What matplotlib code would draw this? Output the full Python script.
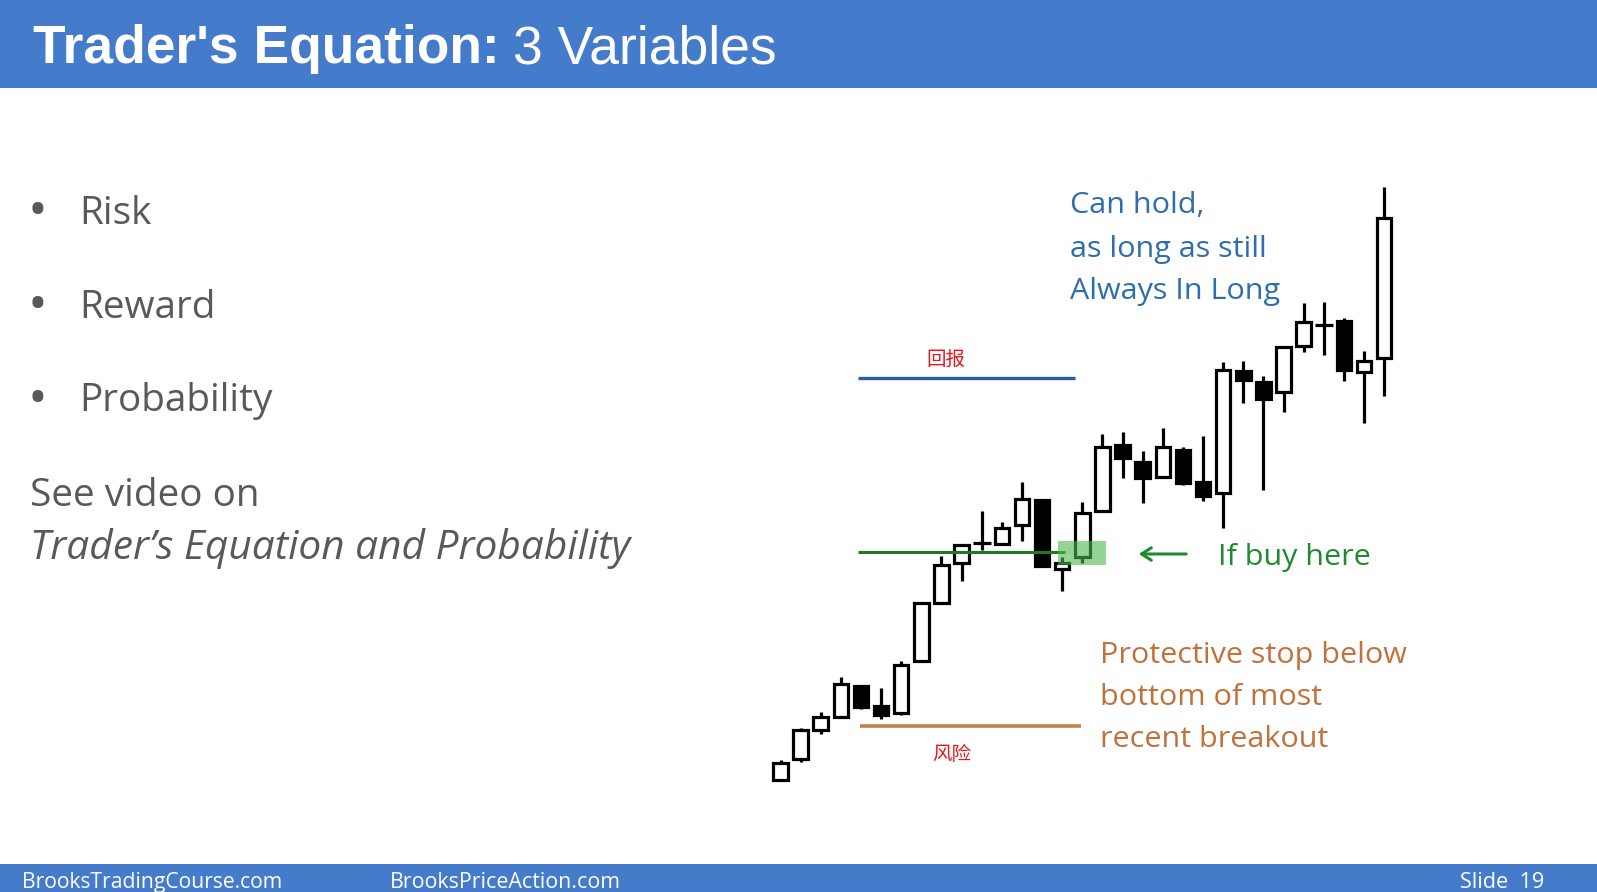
import matplotlib
matplotlib.use('Agg')
import matplotlib.pyplot as plt
from matplotlib.patches import Rectangle
from matplotlib import font_manager as fm

# ─────────────────────────────────────────────
# DATA (prices)
# ─────────────────────────────────────────────
opens  = [2.0, 4.1, 7.0, 8.3, 11.4, 9.4, 8.7, 13.9, 19.7, 23.7,
          25.7, 25.6, 27.5, 30.0, 23.1, 24.3, 28.9, 35.5, 33.8, 32.3,
          35.0, 31.8, 30.7, 42.9, 41.8, 40.8, 45.4, 47.5, 47.9, 42.8, 44.2]
highs  = [4.0, 7.2, 8.8, 12.3, 11.4, 11.2, 13.9, 19.7, 24.4, 25.5,
          28.9, 27.8, 31.8, 30.0, 24.3, 29.8, 36.6, 36.8, 34.9, 37.2,
          35.3, 36.4, 43.8, 43.9, 42.4, 45.3, 49.7, 49.8, 48.2, 44.9, 61.3]
lows   = [2.0, 3.8, 6.6, 8.3, 9.1, 8.1, 8.5, 13.9, 19.7, 21.9,
          25.0, 25.6, 25.9, 23.4, 20.9, 23.7, 28.9, 32.2, 29.7, 32.2,
          31.5, 29.9, 27.2, 39.7, 31.0, 38.8, 44.8, 44.5, 41.9, 37.7, 40.4]
closes = [3.7, 7.0, 8.3, 11.6, 9.3, 8.5, 13.5, 19.7, 23.5, 25.5,
          25.7, 27.2, 30.1, 23.4, 23.7, 28.7, 35.3, 34.2, 32.2, 35.3,
          31.7, 30.4, 43.0, 42.0, 40.1, 45.3, 47.8, 47.5, 43.0, 43.9, 58.2]

reward_level = 42.2
entry_level = 24.8
stop_level = 7.4
reward_span = (3.85, 14.65)
entry_span = (3.85, 14.15)
stop_span = (3.95, 14.95)
entry_bar = 15

bullets = ['Risk', 'Reward', 'Probability']
hold_text = ['Can hold,', 'as long as still', 'Always In Long']
stop_text = ['Protective stop below', 'bottom of most', 'recent breakout']

# ─────────────────────────────────────────────
# COLOURS / FONTS
# ─────────────────────────────────────────────
BAR_BLUE = '#457BCB'
GREY = '#595959'
TXT_BLUE = '#2E6DAE'
TXT_GREEN = '#208A2E'
TXT_ORANGE = '#C2713C'
BODY = 'Open Sans'
CJK = ['Noto Sans CJK SC', 'DejaVu Sans']

names = {f.name for f in fm.fontManager.ttflist}
NARROW = 'Liberation Sans Narrow' if 'Liberation Sans Narrow' in names else 'Open Sans'

W, H = 1597, 892
fig = plt.figure(figsize=(W / 100, H / 100), dpi=100)
fig.patch.set_facecolor('white')
renderer = fig.canvas.get_renderer()

# slide layer in pixel coordinates
slide = fig.add_axes([0, 0, 1, 1])
slide.set_xlim(0, W)
slide.set_ylim(H, 0)
slide.axis('off')


def fit(ax, x, y, s, width, size=20, **kw):
    t = ax.text(x, y, s, fontsize=size, **kw)
    bb = t.get_window_extent(renderer)
    t.set_fontsize(size * width / bb.width)
    return t


# header / footer bars
slide.add_patch(Rectangle((0, 0), W, 88, facecolor=BAR_BLUE, edgecolor='none'))
slide.add_patch(Rectangle((0, 864), W, 28, facecolor=BAR_BLUE, edgecolor='none'))

t1 = slide.text(33, 63, "Trader's Equation:", family='Liberation Sans',
                fontweight='bold', fontsize=38.4, color='white', va='baseline')
bb = t1.get_window_extent(renderer)
slide.text(33 + bb.width + 13, 63, '3 Variables', family='Liberation Sans',
           fontsize=38.4, color='white', va='baseline')

fit(slide, 22, 888, 'BrooksTradingCourse.com', 261, family=NARROW,
    color='white', va='baseline')
fit(slide, 390, 888, 'BrooksPriceAction.com', 229, family=NARROW,
    color='white', va='baseline')
fit(slide, 1460, 888, 'Slide  19', 84, family=NARROW,
    color='white', va='baseline')

# left bullet list
p = fit(slide, 79, 411, bullets[2], 194, family=BODY, color=GREY, va='baseline')
fs = p.get_fontsize()
for label, yb in zip(bullets[:2], [224, 318]):
    slide.text(79, yb, label, family=BODY, fontsize=fs, color=GREY, va='baseline')
for yb in [224, 318, 411]:
    slide.text(38, yb - 10, '•', family=BODY, fontsize=fs * 1.35, color=GREY,
               ha='center', va='center')
slide.text(30, 506, 'See video on', family=BODY, fontsize=fs, color=GREY, va='baseline')
fit(slide, 30, 559, 'Trader’s Equation and Probability', 600, family=BODY,
    style='italic', color=GREY, va='baseline')

# right side annotations
h = fit(slide, 1070, 256.5, hold_text[1], 196, family=BODY, color=TXT_BLUE, va='baseline')
hs = h.get_fontsize()
slide.text(1070, 213, hold_text[0], family=BODY, fontsize=hs, color=TXT_BLUE, va='baseline')
slide.text(1070, 298.5, hold_text[2], family=BODY, fontsize=hs, color=TXT_BLUE, va='baseline')

slide.text(1218, 565, 'If buy here', family=BODY, fontsize=hs, color=TXT_GREEN, va='baseline')
slide.annotate('', xy=(1136, 554), xytext=(1189, 554),
               arrowprops=dict(arrowstyle='->,head_length=0.7,head_width=0.45',
                               color=TXT_GREEN, lw=2.2))

for line, yb in zip(stop_text, [663, 705, 747]):
    slide.text(1100, yb, line, family=BODY, fontsize=hs, color=TXT_ORANGE, va='baseline')

slide.text(946, 359, '回报', family=CJK, fontsize=14, color='#E8141E',
           ha='center', va='center')
slide.text(952, 754, '风险', family=CJK, fontsize=14, color='#E8141E',
           ha='center', va='center')

# ─────────────────────────────────────────────
# CANDLESTICK CHART
# ─────────────────────────────────────────────
chart = fig.add_axes([0, 0, 1, 1])
chart.set_facecolor('none')
chart.set_xlim(-780.5 / 20.12, (W - 780.5) / 20.12)
chart.set_ylim(-9.2, 80.0)
chart.axis('off')

bw = 0.72
lw = 2.3
for i, (o, hi, lo, c) in enumerate(zip(opens, highs, lows, closes)):
    chart.vlines(i, lo, hi, color='black', lw=lw, zorder=2)
    if o == c:
        chart.hlines(o, i - 0.44, i + 0.44, color='black', lw=lw, zorder=3)
        continue
    fill = 'white' if c > o else 'black'
    chart.add_patch(Rectangle((i - bw / 2, min(o, c)), bw, abs(c - o),
                              facecolor=fill, edgecolor='black', lw=lw, zorder=3))

chart.hlines(reward_level, *reward_span, color='#2A5D9F', lw=2.4, zorder=4)
chart.hlines(entry_level, *entry_span, color='#1F7A1F', lw=2.2, zorder=4)
chart.hlines(stop_level, *stop_span, color='#C4804E', lw=2.6, zorder=4)

chart.add_patch(Rectangle((entry_bar - 1.2, entry_level - 1.3), 2.4, 2.4,
                          facecolor='#4DB84D', alpha=0.6, edgecolor='none', zorder=5))

fig.savefig('out.png', dpi=100)
